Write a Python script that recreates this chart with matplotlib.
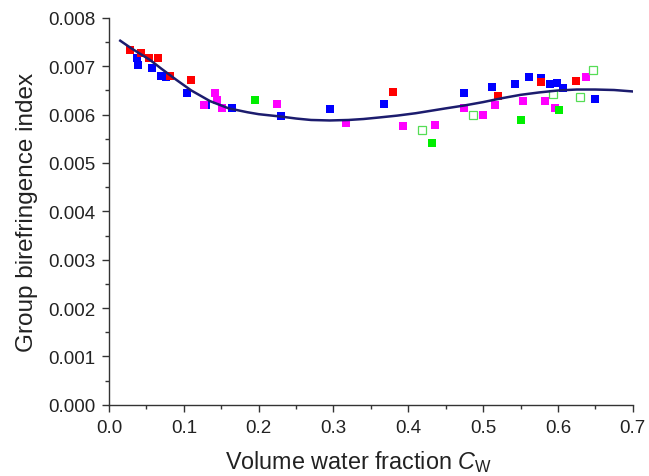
import numpy as np
import matplotlib
matplotlib.use("Agg")
import matplotlib.pyplot as plt
from matplotlib.ticker import MultipleLocator

plt.rcParams['font.family'] = ['Liberation Sans', 'DejaVu Sans']
plt.rcParams['mathtext.fontset'] = 'custom'
plt.rcParams['mathtext.rm'] = 'Liberation Sans'
plt.rcParams['mathtext.it'] = 'Liberation Sans:italic'

# --- data (y in units of 1e-3) ---
red_x = [0.028, 0.043, 0.053, 0.065, 0.082, 0.109, 0.380, 0.520, 0.578, 0.624]
red_y = [7.34, 7.27, 7.17, 7.17, 6.81, 6.72, 6.46, 6.38, 6.68, 6.70]

blue_x = [0.038, 0.039, 0.058, 0.069, 0.076, 0.104, 0.130, 0.165, 0.230, 0.295,
          0.368, 0.474, 0.512, 0.543, 0.561, 0.577, 0.589, 0.599, 0.607, 0.649]
blue_y = [7.17, 7.03, 6.96, 6.81, 6.77, 6.45, 6.20, 6.14, 5.97, 6.12,
          6.23, 6.45, 6.57, 6.63, 6.78, 6.75, 6.63, 6.66, 6.55, 6.32]

mag_x = [0.127, 0.142, 0.144, 0.151, 0.224, 0.317, 0.393, 0.435, 0.475, 0.500,
         0.516, 0.553, 0.583, 0.596, 0.637]
mag_y = [6.19, 6.45, 6.31, 6.14, 6.23, 5.82, 5.77, 5.79, 6.13, 6.00,
         6.20, 6.29, 6.28, 6.13, 6.77]

green_x = [0.195, 0.432, 0.551, 0.601]
green_y = [6.31, 5.41, 5.88, 6.10]

green_open_x = [0.418, 0.486, 0.593, 0.630, 0.647]
green_open_y = [5.68, 5.99, 6.43, 6.37, 6.92]

# fitted curve, read at points along its length
fit_x = [0.015, 0.03, 0.055, 0.07, 0.09, 0.11, 0.135, 0.16, 0.185, 0.2, 0.23,
         0.25, 0.27, 0.295, 0.32, 0.34, 0.36, 0.385, 0.41, 0.43, 0.45, 0.475,
         0.5, 0.525, 0.55, 0.575, 0.6, 0.625, 0.65, 0.675, 0.7]
fit_y = [7.53, 7.37, 7.13, 6.95, 6.72, 6.50, 6.28, 6.13, 6.05, 6.01, 5.96,
         5.92, 5.89, 5.88, 5.89, 5.91, 5.94, 5.98, 6.03, 6.08, 6.13, 6.19,
         6.26, 6.34, 6.41, 6.46, 6.50, 6.52, 6.52, 6.51, 6.48]


def sc(v):
    return np.array(v) * 1e-3


fig = plt.figure(figsize=(6.49, 4.77), dpi=100)
ax = fig.add_axes([0.168, 0.1495, 0.807, 0.8107])

ms = 6.2
ax.plot(blue_x, sc(blue_y), 's', color='#0000ff', ms=ms, mew=0, zorder=3)
ax.plot(red_x, sc(red_y), 's', color='#ff0000', ms=ms, mew=0, zorder=3)
ax.plot(mag_x, sc(mag_y), 's', color='#ff00ff', ms=ms, mew=0, zorder=3)
ax.plot(green_x, sc(green_y), 's', color='#00ee00', ms=ms, mew=0, zorder=3)
ax.plot(green_open_x, sc(green_open_y), 's', mfc='white', mec='#55dd55',
        ms=ms - 0.4, mew=0.9, zorder=3)
ax.plot(fit_x, sc(fit_y), '-', color='#1c1c6e', lw=1.8, zorder=4)

ax.set_xlim(0, 0.7)
ax.set_ylim(0, 0.008)
ax.xaxis.set_major_locator(MultipleLocator(0.1))
ax.xaxis.set_minor_locator(MultipleLocator(0.05))
ax.yaxis.set_major_locator(MultipleLocator(0.001))
ax.yaxis.set_minor_locator(MultipleLocator(0.0005))
ax.xaxis.set_major_formatter(plt.FuncFormatter(lambda v, p: f"{v:.1f}"))
ax.yaxis.set_major_formatter(plt.FuncFormatter(lambda v, p: f"{v:.3f}"))

for s in ['top', 'right']:
    ax.spines[s].set_visible(False)
for s in ['left', 'bottom']:
    ax.spines[s].set_linewidth(1.0)
    ax.spines[s].set_color('#333333')

ax.tick_params(which='major', direction='out', length=5, width=1, labelsize=13.5,
               colors='#333333', labelcolor='#222222', pad=5)
ax.tick_params(which='minor', direction='out', length=3, width=1, colors='#333333')

ax.set_xlabel(r"Volume water fraction $C_\mathrm{W}$", fontsize=16.8, color='#222222')
ax.set_ylabel("Group birefringence index", fontsize=17.5, color='#222222', labelpad=7)
ax.xaxis.set_label_coords(0.477, -0.112)

fig.savefig("out.png", dpi=100)
